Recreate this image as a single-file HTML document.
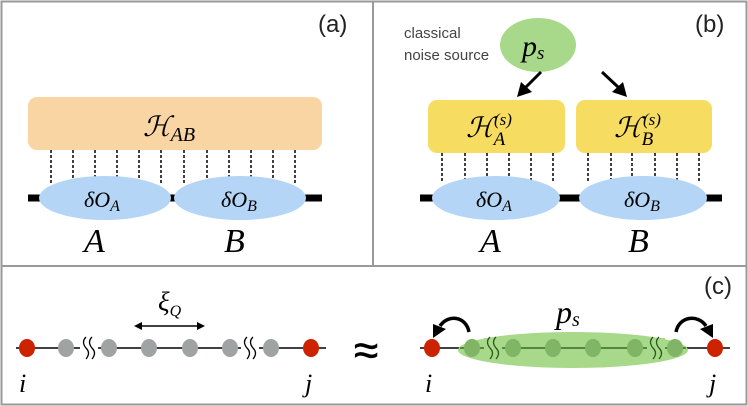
<!DOCTYPE html>
<html><head><meta charset="utf-8"><style>
html,body{margin:0;padding:0;background:#fff}
svg{display:block}
.m{font-family:"Liberation Serif",serif;font-style:italic}
.s{font-family:"Liberation Sans",sans-serif}
</style></head><body>
<svg width="748" height="406" viewBox="0 0 748 406" xmlns="http://www.w3.org/2000/svg">
<rect x="1.5" y="1.5" width="745" height="403" fill="none" stroke="#999" stroke-width="2"/>
<line x1="373" y1="1" x2="373" y2="266" stroke="#999" stroke-width="2"/>
<line x1="1" y1="266" x2="747" y2="266" stroke="#999" stroke-width="2"/>

<!-- (a) -->
<text x="318" y="32" class="s" font-size="24" fill="#222">(a)</text>
<rect x="28" y="97" width="294" height="53" rx="9" fill="#f8d5a3"/>
<text x="143" y="136" class="m" font-size="28">ℋ<tspan font-size="20" dy="5">AB</tspan></text>
<g stroke="#000" stroke-width="1.5" stroke-dasharray="3,2">
<line x1="51" y1="150" x2="51" y2="183"/><line x1="73" y1="150" x2="73" y2="183"/><line x1="95" y1="150" x2="95" y2="183"/><line x1="117" y1="150" x2="117" y2="183"/><line x1="139" y1="150" x2="139" y2="183"/><line x1="161" y1="150" x2="161" y2="183"/><line x1="184" y1="150" x2="184" y2="183"/><line x1="207" y1="150" x2="207" y2="183"/><line x1="229" y1="150" x2="229" y2="183"/><line x1="251" y1="150" x2="251" y2="183"/><line x1="273" y1="150" x2="273" y2="183"/><line x1="295" y1="150" x2="295" y2="183"/>
</g>
<line x1="28" y1="198" x2="322" y2="198" stroke="#000" stroke-width="7"/>
<ellipse cx="105" cy="198" rx="66" ry="22" fill="#b4d5f5"/>
<ellipse cx="240" cy="198" rx="66" ry="22" fill="#b4d5f5"/>
<text x="84" y="207" class="m" font-size="22">δO<tspan font-size="16" dy="4">A</tspan></text>
<text x="221" y="207" class="m" font-size="22">δO<tspan font-size="16" dy="4">B</tspan></text>
<text x="84" y="252" class="m" font-size="34">A</text>
<text x="224" y="252" class="m" font-size="34">B</text>

<!-- (b) -->
<text x="695" y="32" class="s" font-size="24" fill="#222">(b)</text>
<text x="404" y="38" class="s" font-size="15" fill="#444">classical</text>
<text x="404" y="60" class="s" font-size="15" fill="#444">noise source</text>
<ellipse cx="538" cy="45" rx="38" ry="27" fill="#a8d88a"/>
<text x="522" y="56" class="m" font-size="30">p<tspan font-size="19" dy="3">s</tspan></text>
<line x1="541" y1="72" x2="526" y2="87" stroke="#000" stroke-width="3"/>
<path d="M517,97 L521,82 L532,92 z" fill="#000"/>
<line x1="602" y1="72" x2="618" y2="87" stroke="#000" stroke-width="3"/>
<path d="M627,97 L612,92 L623,82 z" fill="#000"/>
<rect x="428" y="100" width="137" height="53" rx="9" fill="#f7dc62"/>
<rect x="576" y="100" width="136" height="53" rx="9" fill="#f7dc62"/>
<text x="466" y="137" class="m" font-size="28">ℋ<tspan font-size="19" dy="8">A</tspan></text>
<text x="494" y="125" class="m" font-size="17">(s)</text>
<text x="614" y="137" class="m" font-size="28">ℋ<tspan font-size="19" dy="8">B</tspan></text>
<text x="643" y="125" class="m" font-size="17">(s)</text>
<g stroke="#000" stroke-width="1.5" stroke-dasharray="3,2">
<line x1="442" y1="153" x2="442" y2="183"/><line x1="465" y1="153" x2="465" y2="183"/><line x1="487" y1="153" x2="487" y2="183"/><line x1="509" y1="153" x2="509" y2="183"/><line x1="531" y1="153" x2="531" y2="183"/><line x1="553" y1="153" x2="553" y2="183"/>
<line x1="588" y1="153" x2="588" y2="183"/><line x1="611" y1="153" x2="611" y2="183"/><line x1="632" y1="153" x2="632" y2="183"/><line x1="655" y1="153" x2="655" y2="183"/><line x1="677" y1="153" x2="677" y2="183"/><line x1="699" y1="153" x2="699" y2="183"/>
</g>
<line x1="420" y1="198" x2="722" y2="198" stroke="#000" stroke-width="7"/>
<ellipse cx="496" cy="198" rx="64" ry="22" fill="#b4d5f5"/>
<ellipse cx="643" cy="198" rx="64" ry="22" fill="#b4d5f5"/>
<text x="476" y="207" class="m" font-size="22">δO<tspan font-size="16" dy="4">A</tspan></text>
<text x="624" y="207" class="m" font-size="22">δO<tspan font-size="16" dy="4">B</tspan></text>
<text x="480" y="252" class="m" font-size="34">A</text>
<text x="628" y="252" class="m" font-size="34">B</text>

<!-- (c) -->
<text x="704" y="294" class="s" font-size="24" fill="#222">(c)</text>
<line x1="16" y1="348" x2="326" y2="348" stroke="#000" stroke-width="1.5"/>
<g fill="#a0a3a3">
<ellipse cx="66" cy="348" rx="8" ry="9"/><ellipse cx="109" cy="348" rx="8" ry="9"/><ellipse cx="149" cy="348" rx="8" ry="9"/><ellipse cx="190" cy="348" rx="8" ry="9"/><ellipse cx="230" cy="348" rx="8" ry="9"/><ellipse cx="271" cy="348" rx="8" ry="9"/>
</g>
<rect x="80" y="336" width="18" height="24" fill="#fff"/>
<rect x="241" y="336" width="18" height="24" fill="#fff"/>
<g fill="none" stroke="#000" stroke-width="1.3">
<path d="M86,337 q-5,5 0,11 q5,5 0,11"/><path d="M92,337 q-5,5 0,11 q5,5 0,11"/>
<path d="M247,337 q-5,5 0,11 q5,5 0,11"/><path d="M253,337 q-5,5 0,11 q5,5 0,11"/>
</g>
<ellipse cx="27" cy="348" rx="8" ry="9" fill="#cc2200"/>
<ellipse cx="311" cy="348" rx="8" ry="9" fill="#cc2200"/>
<text x="19" y="392" class="m" font-size="26">i</text>
<text x="305" y="392" class="m" font-size="26">j</text>
<text x="158" y="311" class="m" font-size="27">ξ<tspan font-size="16" dy="5">Q</tspan></text>
<line x1="140" y1="326" x2="199" y2="326" stroke="#000" stroke-width="1.5"/>
<path d="M134,326 l8,-4 v8z M205,326 l-8,-4 v8z" fill="#000"/>
<text x="354" y="365" class="s" font-size="44" stroke="#000" stroke-width="0.6">≈</text>

<line x1="420" y1="348" x2="730" y2="348" stroke="#000" stroke-width="1.5"/>
<ellipse cx="573" cy="350" rx="115" ry="18" fill="#a8d88a"/>
<line x1="460" y1="348" x2="686" y2="348" stroke="#3a6b2a" stroke-width="1.5"/>
<g fill="#80b565">
<ellipse cx="472" cy="348" rx="8" ry="9"/><ellipse cx="513" cy="348" rx="8" ry="9"/><ellipse cx="553" cy="348" rx="8" ry="9"/><ellipse cx="593" cy="348" rx="8" ry="9"/><ellipse cx="635" cy="348" rx="8" ry="9"/><ellipse cx="675" cy="348" rx="8" ry="9"/>
</g>
<rect x="484" y="338" width="18" height="20" fill="#a8d88a"/>
<rect x="647" y="338" width="18" height="20" fill="#a8d88a"/>
<g fill="none" stroke="#2a5a1a" stroke-width="1.3">
<path d="M490,337 q-5,5 0,11 q5,5 0,11"/><path d="M496,337 q-5,5 0,11 q5,5 0,11"/>
<path d="M653,337 q-5,5 0,11 q5,5 0,11"/><path d="M659,337 q-5,5 0,11 q5,5 0,11"/>
</g>
<ellipse cx="432" cy="348" rx="8" ry="9" fill="#cc2200"/>
<ellipse cx="715" cy="348" rx="8" ry="9" fill="#cc2200"/>
<text x="425" y="392" class="m" font-size="26">i</text>
<text x="709" y="392" class="m" font-size="26">j</text>
<text x="556" y="323" class="m" font-size="32">p<tspan font-size="20" dy="3">s</tspan></text>
<path d="M469,332 C466,316 448,314 440,326" fill="none" stroke="#000" stroke-width="3.5"/>
<path d="M433,338 l0,-14 l13,5z" fill="#000"/>
<path d="M676,332 C679,316 698,314 706,326" fill="none" stroke="#000" stroke-width="3.5"/>
<path d="M713,338 l0,-14 l-13,5z" fill="#000"/>
</svg>
</body></html>
